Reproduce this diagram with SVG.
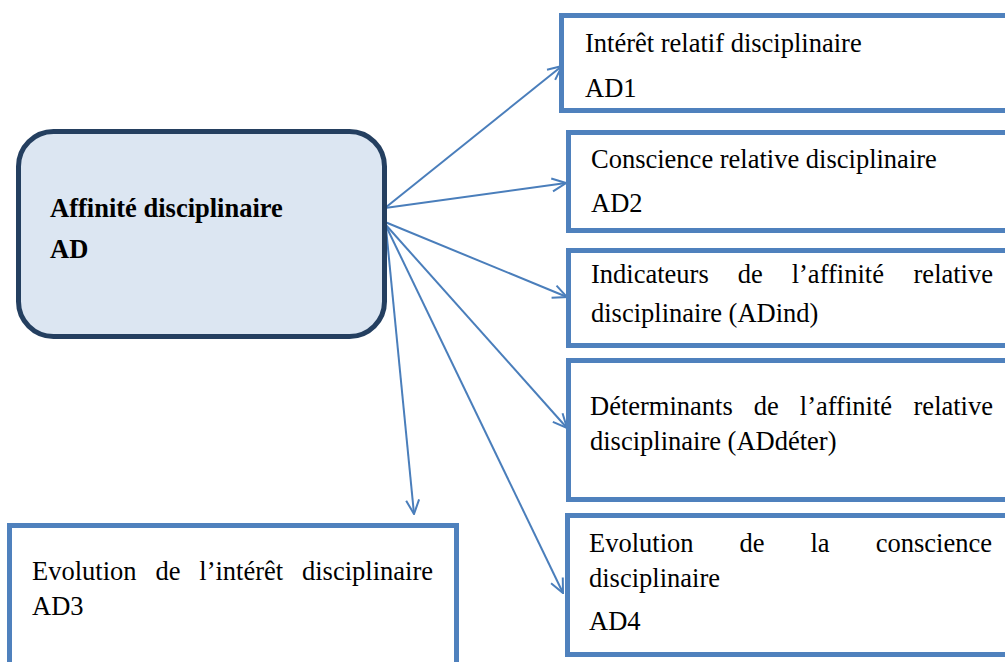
<svg xmlns="http://www.w3.org/2000/svg" width="1005" height="662" viewBox="0 0 1005 662">
<defs>
<style>
.box{fill:#ffffff;stroke:#4f81bd;stroke-width:5}
.main{fill:#dce6f2;stroke:#243f60;stroke-width:5}
.t{font-family:'Liberation Serif','Times New Roman',serif;font-size:26.5px;fill:#000}
.b{font-weight:bold}
.e{text-anchor:end}
.c{fill:none;stroke:#4a7ebb;stroke-width:2}
</style>
<marker id="arr" viewBox="0 0 16 16" refX="15" refY="8" markerWidth="16" markerHeight="16" markerUnits="userSpaceOnUse" orient="auto">
<path d="M1,1.5 L15,8 L1,14.5" fill="none" stroke="#4a7ebb" stroke-width="2"/>
</marker>
</defs>
<g id="connectors">
<line class="c" x1="385" y1="208" x2="562" y2="66" marker-end="url(#arr)"/>
<line class="c" x1="385" y1="208" x2="566" y2="183" marker-end="url(#arr)"/>
<line class="c" x1="385" y1="222" x2="567" y2="297" marker-end="url(#arr)"/>
<line class="c" x1="385" y1="224" x2="567" y2="428" marker-end="url(#arr)"/>
<line class="c" x1="386" y1="226" x2="563" y2="593" marker-end="url(#arr)"/>
<line class="c" x1="386" y1="228" x2="414" y2="514" marker-end="url(#arr)"/>
</g>
<g id="AD">
<rect class="main" x="18.5" y="131.5" width="366" height="205" rx="35"/>
<text class="t b" x="50" y="217">Affinité disciplinaire</text>
<text class="t b" x="50" y="258">AD</text>
</g>
<g id="AD1">
<rect class="box" x="561.5" y="15.5" width="460" height="95"/>
<text class="t" x="585" y="52">Intérêt relatif disciplinaire</text>
<text class="t" x="585" y="97">AD1</text>
</g>
<g id="AD2">
<rect class="box" x="568.5" y="132.5" width="460" height="98"/>
<text class="t" x="591" y="168">Conscience relative disciplinaire</text>
<text class="t" x="591" y="212">AD2</text>
</g>
<g id="ADind">
<rect class="box" x="568.5" y="250.5" width="460" height="95"/>
<text class="t" x="591" y="283">Indicateurs</text>
<text class="t" x="737.7" y="283">de</text>
<text class="t" x="791.7" y="283">l’affinité</text>
<text class="t e" x="993" y="283">relative</text>
<text class="t" x="591" y="322">disciplinaire (ADind)</text>
</g>
<g id="ADdeter">
<rect class="box" x="568.5" y="360.5" width="460" height="139"/>
<text class="t" x="590" y="415">Déterminants</text>
<text class="t" x="753.8" y="415">de</text>
<text class="t" x="799.8" y="415">l’affinité</text>
<text class="t e" x="993" y="415">relative</text>
<text class="t" x="590" y="450">disciplinaire (ADdéter)</text>
</g>
<g id="AD4">
<rect class="box" x="567.5" y="515.5" width="460" height="139"/>
<text class="t" x="589" y="552">Evolution</text>
<text class="t" x="739.5" y="552">de</text>
<text class="t" x="810.5" y="552">la</text>
<text class="t e" x="992" y="552">conscience</text>
<text class="t" x="589" y="587">disciplinaire</text>
<text class="t" x="589" y="630">AD4</text>
</g>
<g id="AD3">
<rect class="box" x="9.5" y="525.5" width="447" height="160"/>
<text class="t" x="32" y="580">Evolution</text>
<text class="t" x="155.4" y="580">de</text>
<text class="t" x="199.3" y="580">l’intérêt</text>
<text class="t e" x="433" y="580">disciplinaire</text>
<text class="t" x="32" y="615">AD3</text>
</g>
</svg>
